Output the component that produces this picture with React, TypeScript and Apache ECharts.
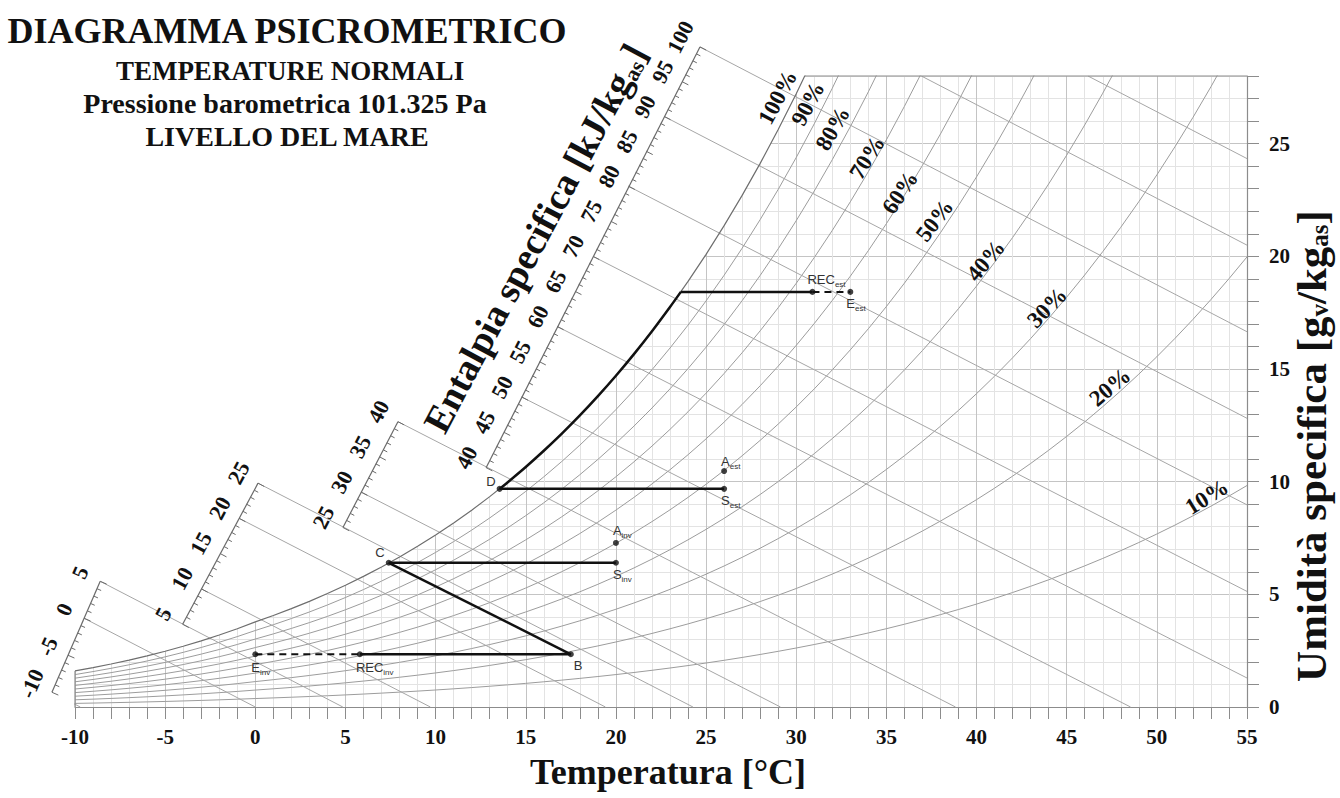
import React, { useEffect, useRef } from "react";
import * as echarts from "echarts";

// ---------------- DATA ----------------
const P_ATM_KPA = 101.325;

const TEMPERATURES = [
  -10, -9, -8, -7, -6, -5, -4, -3, -2, -1, 0, 1, 2, 3, 4, 5, 6, 7, 8, 9, 10,
  11, 12, 13, 14, 15, 16, 17, 18, 19, 20, 21, 22, 23, 24, 25, 26, 27, 28, 29, 30,
  31, 32, 33, 34, 35, 36, 37, 38, 39, 40, 41, 42, 43, 44, 45, 46, 47, 48, 49, 50,
  51, 52, 53, 54, 55,
];

// saturation vapour pressure (kPa), ice below 0 °C
const SAT_PRESSURE_KPA = [
  0.2599, 0.2839, 0.3098, 0.338, 0.3685, 0.4015, 0.4372, 0.476, 0.5176, 0.5626, 0.6112,
  0.6571, 0.706, 0.7581, 0.8135, 0.8726, 0.9354, 1.0021, 1.073, 1.1482, 1.2282,
  1.313, 1.4028, 1.4981, 1.599, 1.7058, 1.8188, 1.9384, 2.0647, 2.1983, 2.3393,
  2.4882, 2.6453, 2.8111, 2.9858, 3.1699, 3.3639, 3.5681, 3.7831, 4.0092, 4.247,
  4.4969, 4.7596, 5.0354, 5.3251, 5.629, 5.9479, 6.2823, 6.6328, 7.0002, 7.3849,
  7.7878, 8.2096, 8.6508, 9.1124, 9.595, 10.099, 10.627, 11.177, 11.752, 12.352,
  12.978, 13.631, 14.312, 15.022, 15.762,
];

const RH_LEVELS = [10, 20, 30, 40, 50, 60, 70, 80, 90];
const ENTHALPY_LINES = [-10, 0, 5, 10, 20, 25, 30, 40, 50, 60, 70, 80, 90, 100, 110, 120];

const RULER_RANGES = [
  [-10, 5],
  [5, 25],
  [25, 40],
  [40, 100],
];
const RULER_LABELS = [
  [-10, -5, 0, 5],
  [5, 10, 15, 20, 25],
  [25, 30, 35, 40],
  [40, 45, 50, 55, 60, 65, 70, 75, 80, 85, 90, 95, 100],
];

const STATE_POINTS = [
  { id: "Einv", label: "E", sub: "inv", t: 0.0, x: 2.34 },
  { id: "RECinv", label: "REC", sub: "inv", t: 5.8, x: 2.34 },
  { id: "B", label: "B", sub: "", t: 17.5, x: 2.34 },
  { id: "C", label: "C", sub: "", t: 7.4, x: 6.4 },
  { id: "Sinv", label: "S", sub: "inv", t: 20.0, x: 6.4 },
  { id: "Ainv", label: "A", sub: "inv", t: 20.0, x: 7.28 },
  { id: "D", label: "D", sub: "", t: 13.55, x: 9.68 },
  { id: "Sest", label: "S", sub: "est", t: 26.0, x: 9.68 },
  { id: "Aest", label: "A", sub: "est", t: 26.0, x: 10.47 },
  { id: "RECest", label: "REC", sub: "est", t: 30.9, x: 18.42 },
  { id: "Eest", label: "E", sub: "est", t: 33.0, x: 18.42 },
];
const SUMMER_SAT_TURN = { t: 23.6, x: 18.42 };

const SOLID_SEGMENTS = [
  ["RECinv", "B"],
  ["B", "C"],
  ["C", "Sinv"],
  ["D", "Sest"],
];
const DASHED_SEGMENTS = [
  ["Einv", "RECinv"],
  ["RECest", "Eest"],
];

// ---------------- LAYOUT / STYLE ----------------
const SERIF = "'Liberation Serif', 'Times New Roman', serif";
const SANS = "'Liberation Sans', Arial, sans-serif";
const CP_AIR = 1.03;
const LATENT = 2501;
const CP_VAP = 1.86;
const T_MIN = -10;
const T_MAX = 55;
const X_MAX = 28;

// ruler ends (temperature of each end, on its enthalpy line)
const RULER_T_ENDS = [
  [-11.28, -8.6],
  [-4.03, 0.15],
  [4.86, 7.91],
  [12.8, 24.66],
];

const RH_LABEL_LAYOUT = [
  { rh: 100, t: 28.97, x: 27.05, angle: 62 },
  { rh: 90, t: 30.65, x: 26.77, angle: 62 },
  { rh: 80, t: 32.02, x: 25.67, angle: 60 },
  { rh: 70, t: 33.93, x: 24.38, angle: 58 },
  { rh: 60, t: 35.76, x: 22.83, angle: 56 },
  { rh: 50, t: 37.68, x: 21.59, angle: 53 },
  { rh: 40, t: 40.51, x: 19.81, angle: 50 },
  { rh: 30, t: 43.91, x: 17.73, angle: 46 },
  { rh: 20, t: 47.4, x: 14.2, angle: 40 },
  { rh: 10, t: 52.77, x: 9.32, angle: 32 },
];

const POINT_LABEL_LAYOUT: Record<string, [number, number, string]> = {
  Einv: [-4, 13, "left"],
  RECinv: [-4, 13, "left"],
  B: [3, 11, "left"],
  C: [-4, -10, "right"],
  Sinv: [-3, 12, "left"],
  Ainv: [-3, -12, "left"],
  D: [-4, -7, "right"],
  Sest: [-3, 12, "left"],
  Aest: [-3, -10, "left"],
  RECest: [-5, -12, "left"],
  Eest: [-4, 12, "left"],
};

// ---------------- HELPERS ----------------
const humidity = (p: number, phi: number) => (622 * phi * p) / (P_ATM_KPA - phi * p);
const xOnEnthalpy = (t: number, h: number) => ((h - CP_AIR * t) * 1000) / (LATENT + CP_VAP * t);

const satCurve = TEMPERATURES.map((t, i) => [t, humidity(SAT_PRESSURE_KPA[i], 1)]);
const rhCurve = (rh: number) =>
  TEMPERATURES.map((t, i) => [t, humidity(SAT_PRESSURE_KPA[i], rh / 100)]);

function tAtSat(x: number) {
  for (let i = 0; i < satCurve.length - 1; i++) {
    const [t0, x0] = satCurve[i];
    const [t1, x1] = satCurve[i + 1];
    if (x >= x0 && x <= x1) return t0 + ((x - x0) / (x1 - x0)) * (t1 - t0);
  }
  return T_MAX;
}

function rulerPoint(ri: number, h: number) {
  const [h0, h1] = RULER_RANGES[ri];
  const [t0, t1] = RULER_T_ENDS[ri];
  const t = t0 + ((h - h0) / (h1 - h0)) * (t1 - t0);
  return [t, xOnEnthalpy(t, h)];
}

function enthalpyStart(h: number) {
  for (let i = 0; i < RULER_RANGES.length; i++) {
    if (h >= RULER_RANGES[i][0] && h <= RULER_RANGES[i][1]) return rulerPoint(i, h);
  }
  const t = (h - (X_MAX * LATENT) / 1000) / (CP_AIR + (X_MAX * CP_VAP) / 1000);
  return [t, X_MAX];
}
function enthalpyEnd(h: number) {
  const t = h / CP_AIR;
  if (t <= T_MAX) return [t, 0];
  return [T_MAX, xOnEnthalpy(T_MAX, h)];
}

const pointById = (id: string) => {
  const p = STATE_POINTS.find((q) => q.id === id)!;
  return [p.t, p.x];
};

export default function App() {
  const ref = useRef<HTMLDivElement>(null);

  useEffect(() => {
    document.body.style.margin = "0";
    const chart = echarts.init(ref.current!, undefined, { renderer: "svg" });

    const majorEvery5 = ["#c4c4c4", "#e3e3e3", "#e3e3e3", "#e3e3e3", "#e3e3e3"];
    const series: any[] = [];

    // white cover above saturation curve
    series.push({
      type: "line",
      data: satCurve,
      symbol: "none",
      silent: true,
      lineStyle: { opacity: 0 },
      areaStyle: { origin: "end", color: "#ffffff", opacity: 1 },
      z: 1,
    });

    RH_LEVELS.forEach((rh) => {
      series.push({
        type: "line",
        data: rhCurve(rh),
        symbol: "none",
        silent: true,
        lineStyle: { color: "#9c9c9c", width: 1 },
        z: 3,
      });
    });

    ENTHALPY_LINES.forEach((h) => {
      series.push({
        type: "line",
        data: [enthalpyStart(h), enthalpyEnd(h)],
        symbol: "none",
        silent: true,
        clip: h <= 100 ? false : true,
        lineStyle: { color: "#a6a6a6", width: 1 },
        z: 3,
      });
    });

    // saturation curve
    series.push({
      type: "line",
      data: satCurve,
      symbol: "none",
      silent: true,
      lineStyle: { color: "#6e6e6e", width: 1.2 },
      z: 4,
    });

    // top border and left border
    series.push({
      type: "line",
      data: [
        [tAtSat(X_MAX), X_MAX],
        [T_MAX, X_MAX],
      ],
      symbol: "none",
      silent: true,
      clip: false,
      lineStyle: { color: "#8c8c8c", width: 1.2 },
      z: 4,
    });
    series.push({
      type: "line",
      data: [
        [T_MIN, 0],
        [T_MIN, satCurve[0][1]],
      ],
      symbol: "none",
      silent: true,
      clip: false,
      lineStyle: { color: "#8c8c8c", width: 1.2 },
      z: 4,
    });

    // process lines
    SOLID_SEGMENTS.forEach(([a, b]) => {
      series.push({
        type: "line",
        data: [pointById(a), pointById(b)],
        symbol: "none",
        silent: true,
        lineStyle: { color: "#111", width: 2.5 },
        z: 5,
      });
    });
    DASHED_SEGMENTS.forEach(([a, b]) => {
      series.push({
        type: "line",
        data: [pointById(a), pointById(b)],
        symbol: "none",
        silent: true,
        lineStyle: { color: "#111", width: 2, type: [7, 5] },
        z: 5,
      });
    });
    const rec = STATE_POINTS.find((p) => p.id === "RECest")!;
    const d = STATE_POINTS.find((p) => p.id === "D")!;
    series.push({
      type: "line",
      data: [
        [rec.t, rec.x],
        [SUMMER_SAT_TURN.t, SUMMER_SAT_TURN.x],
      ],
      symbol: "none",
      silent: true,
      lineStyle: { color: "#111", width: 2.5 },
      z: 5,
    });
    const boldSat: number[][] = [[d.t, d.x]];
    satCurve.forEach(([t, x]) => {
      if (t > d.t && t < SUMMER_SAT_TURN.t) boldSat.push([t, x]);
    });
    boldSat.push([SUMMER_SAT_TURN.t, SUMMER_SAT_TURN.x]);
    series.push({
      type: "line",
      data: boldSat,
      symbol: "none",
      silent: true,
      smooth: 0.3,
      lineStyle: { color: "#111", width: 2.5 },
      z: 5,
    });

    series.push({
      type: "scatter",
      data: STATE_POINTS.map((p) => [p.t, p.x]),
      symbolSize: 6,
      itemStyle: { color: "#111" },
      silent: true,
      z: 6,
    });

    const option: any = {
      animation: false,
      backgroundColor: "#ffffff",
      grid: { left: 75, right: 93, top: 76, bottom: 91, containLabel: false },
      xAxis: {
        type: "value",
        min: T_MIN,
        max: T_MAX,
        interval: 1,
        axisLine: { show: true, onZero: false, lineStyle: { color: "#8c8c8c", width: 1.2 } },
        axisTick: { show: true, length: 12, lineStyle: { color: "#8c8c8c" } },
        axisLabel: {
          margin: 19,
          fontFamily: SERIF,
          fontWeight: "bold",
          fontSize: 21,
          color: "#111",
          formatter: (v: number) => (v % 5 === 0 ? String(v) : ""),
        },
        splitLine: { show: true, lineStyle: { color: majorEvery5, width: 1 } },
      },
      yAxis: {
        type: "value",
        position: "right",
        min: 0,
        max: X_MAX,
        interval: 1,
        axisLine: { show: true, onZero: false, lineStyle: { color: "#8c8c8c", width: 1.2 } },
        axisTick: { show: true, length: 12, lineStyle: { color: "#8c8c8c" } },
        axisLabel: {
          margin: 22,
          fontFamily: SERIF,
          fontWeight: "bold",
          fontSize: 21,
          color: "#111",
          formatter: (v: number) => (v % 5 === 0 ? String(v) : ""),
        },
        splitLine: { show: true, lineStyle: { color: majorEvery5, width: 1 } },
      },
      series,
    };
    chart.setOption(option);

    const toPx = (t: number, x: number) =>
      chart.convertToPixel({ gridIndex: 0 }, [t, x]) as unknown as number[];

    const g: any[] = [];
    const txt = (
      x: number,
      y: number,
      text: string,
      fontSize: number,
      opts: any = {}
    ) => ({
      type: "text",
      x,
      y,
      rotation: opts.rotation || 0,
      silent: true,
      z: 50,
      style: {
        text,
        x: 0,
        y: 0,
        fontSize,
        fontFamily: opts.fontFamily || SERIF,
        fontWeight: opts.fontWeight || "bold",
        fill: opts.fill || "#111",
        align: opts.align || "center",
        verticalAlign: "middle",
        lineHeight: opts.lineHeight,
        rich: opts.rich,
      },
    });

    // titles
    g.push(txt(287, 31, "DIAGRAMMA PSICROMETRICO", 36));
    g.push(txt(290, 71, "TEMPERATURE NORMALI", 27));
    g.push(txt(285, 103, "Pressione barometrica 101.325 Pa", 28));
    g.push(txt(287, 136, "LIVELLO DEL MARE", 28));

    // axis titles
    g.push(txt(668, 772, "Temperatura [°C]", 36));
    const subFor = (size: number, lh: number) => ({
      s: { fontSize: size, fontFamily: SERIF, fontWeight: "bold", fill: "#111", verticalAlign: "bottom", lineHeight: lh },
    });
    g.push(
      txt(1311, 446, "Umidità specifica [g{s|v}/kg{s|as}]", 43, {
        rotation: Math.PI / 2,
        rich: subFor(25, 42),
        lineHeight: 42,
      })
    );
    g.push(
      txt(535, 238, "Entalpia specifica [kJ/kg{s|as}]", 38, {
        rotation: (62 * Math.PI) / 180,
        rich: subFor(22, 40),
        lineHeight: 40,
      })
    );

    // enthalpy rulers
    RULER_RANGES.forEach(([h0, h1], ri) => {
      const pts: number[][] = [];
      for (let h = h0; h <= h1; h++) {
        const [t, x] = rulerPoint(ri, h);
        pts.push(toPx(t, x));
      }
      const a = pts[0];
      const b = pts[pts.length - 1];
      const len = Math.hypot(b[0] - a[0], b[1] - a[1]);
      const ux = (b[0] - a[0]) / len;
      const uy = (b[1] - a[1]) / len;
      const nx = -uy;
      const ny = ux;
      const angle = Math.atan2(-(b[1] - a[1]), b[0] - a[0]);
      g.push({
        type: "polyline",
        silent: true,
        z: 40,
        shape: { points: [a, b] },
        style: { stroke: "#6a6a6a", lineWidth: 1.2, fill: null },
      });
      pts.forEach((p, k) => {
        const h = h0 + k;
        const L = h % 5 === 0 ? 7 : 4.5;
        g.push({
          type: "line",
          silent: true,
          z: 40,
          shape: { x1: p[0], y1: p[1], x2: p[0] + nx * L, y2: p[1] + ny * L },
          style: { stroke: "#6a6a6a", lineWidth: 1 },
        });
      });
      RULER_LABELS[ri].forEach((h) => {
        const p = pts[h - h0];
        g.push(txt(p[0] - nx * 22, p[1] - ny * 22, String(h), 22, { rotation: angle }));
      });
    });

    // RH labels
    RH_LABEL_LAYOUT.forEach((l) => {
      const p = toPx(l.t, l.x);
      g.push(txt(p[0], p[1], `${l.rh}%`, 23, { rotation: (l.angle * Math.PI) / 180 }));
    });

    // state point labels
    const smallRich = {
      s: { fontSize: 8, fontFamily: SANS, fill: "#333", verticalAlign: "bottom", lineHeight: 18 },
    };
    STATE_POINTS.forEach((p) => {
      const px = toPx(p.t, p.x);
      const [dx, dy, align] = POINT_LABEL_LAYOUT[p.id];
      const text = p.sub ? `${p.label}{s|${p.sub}}` : p.label;
      g.push(
        txt(px[0] + dx, px[1] + dy, text, 13, {
          fontFamily: SANS,
          fontWeight: "normal",
          fill: "#333",
          align,
          rich: smallRich,
          lineHeight: 18,
        })
      );
    });

    chart.setOption({ graphic: g });

    return () => chart.dispose();
  }, []);

  return <div ref={ref} style={{ width: 1340, height: 798 }} />;
}
